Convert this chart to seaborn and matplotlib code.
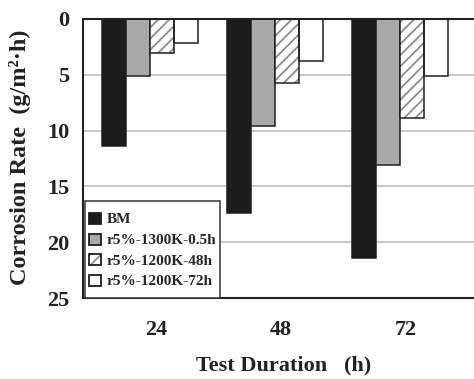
import matplotlib
matplotlib.use("Agg")
import matplotlib.pyplot as plt
import matplotlib.transforms as mtransforms
from matplotlib.patches import Rectangle, Patch
from matplotlib.legend_handler import HandlerTuple, HandlerPatch
import seaborn as sns
import pandas as pd

# ---- data ----
durations = ["24", "48", "72"]
series = ["BM", "r5%-1300K-0.5h", "r5%-1200K-48h", "r5%-1200K-72h"]
bm = [11.4, 17.35, 21.4]
r1300_05 = [5.1, 9.55, 13.1]
r1200_48 = [3.02, 5.77, 8.9]
r1200_72 = [2.18, 3.73, 5.15]
y_ticks = [0, 5, 10, 15, 20, 25]

records = []
for name, vals in zip(series, [bm, r1300_05, r1200_48, r1200_72]):
    for d, v in zip(durations, vals):
        records.append((d, name, v))
df = pd.DataFrame(records, columns=["Duration", "Series", "Rate"])

sns.set_style("white")
plt.rcParams["font.family"] = ["Liberation Serif", "DejaVu Serif"]
plt.rcParams["font.weight"] = "bold"
plt.rcParams["hatch.linewidth"] = 1.3

palette = {series[0]: "#1c1c1c", series[1]: "#a9a9a9",
           series[2]: "#ffffff", series[3]: "#ffffff"}
edge = "#1e1e1e"

W, H = 474, 379
fig = plt.figure(figsize=(W / 100, H / 100), dpi=100)
left, right, top, bottom = 83, 474, 19, 298
ax = fig.add_axes([left / W, 1 - bottom / H, (right - left) / W, (bottom - top) / H])

sns.barplot(data=df, x="Duration", y="Rate", hue="Series", order=durations,
            hue_order=series, palette=palette, width=0.77, saturation=1,
            edgecolor=edge, linewidth=1.1, errorbar=None, legend=False, ax=ax)

# hatched series: gray hatch, dark outline overlay
for p in ax.containers[2].patches:
    p.set_hatch("///")
    p.set_edgecolor("#8c8c8c")
    p.set_linewidth(0)
    ax.add_patch(Rectangle((p.get_x(), p.get_y()), p.get_width(), p.get_height(),
                           fill=False, edgecolor=edge, lw=1.1,
                           zorder=p.get_zorder() + 0.1))

ax.set_ylim(25, 0)
ax.set_xlim(-0.536, 2.592)
ax.set_yticks(y_ticks)
ax.set_yticklabels([str(t) for t in y_ticks])

ax.set_axisbelow(True)
ax.yaxis.grid(True, color="#bdbdbd", lw=1.2)
ax.xaxis.grid(False)

for s in ["top", "left", "bottom"]:
    ax.spines[s].set_visible(True)
    ax.spines[s].set_color("#222222")
    ax.spines[s].set_linewidth(1.5)
ax.spines["right"].set_visible(False)

ax.tick_params(axis="both", length=0, labelsize=16, colors="#222222")
ax.tick_params(axis="y", pad=10)
ax.tick_params(axis="x", pad=16)
for lab in ax.get_xticklabels() + ax.get_yticklabels():
    lab.set_fontweight("bold")
shift = mtransforms.ScaledTranslation(6 / 100, 0, fig.dpi_scale_trans)
for lab in ax.get_xticklabels():
    lab.set_transform(lab.get_transform() + shift)

ax.set_xlabel("Test Duration   (h)", fontsize=16, fontweight="bold", color="#222222")
ax.xaxis.label.set_va("center")
ax.xaxis.set_label_coords((284 - left) / (right - left), (bottom - 365) / (bottom - top))
ax.set_ylabel("Corrosion Rate  (g/m²·h)", fontsize=17.5, fontweight="bold", color="#222222")
ax.yaxis.label.set_va("center")
ax.yaxis.set_label_coords((20 - left) / (right - left), (bottom - 157) / (bottom - top))


# legend: small square swatches centred in taller rows
def square_patch(legend, orig_handle, xdescent, ydescent, width, height, fontsize):
    s = 0.72 * fontsize
    return Rectangle((-xdescent, -ydescent + (height - s) / 2), width, s)


square = HandlerPatch(patch_func=square_patch)

handles = [
    Patch(facecolor=palette[series[0]], edgecolor=edge, lw=1.3),
    Patch(facecolor=palette[series[1]], edgecolor=edge, lw=1.3),
    (Patch(facecolor="#ffffff", edgecolor="#8c8c8c", hatch="///", lw=0),
     Patch(fill=False, edgecolor=edge, lw=1.3)),
    Patch(facecolor=palette[series[3]], edgecolor=edge, lw=1.3),
]
leg = ax.legend(handles, series, loc="lower left", bbox_to_anchor=(0.005, 0.0),
                borderaxespad=0, frameon=True, fancybox=False,
                prop={"family": ["Liberation Serif"], "weight": "bold", "size": 11},
                handlelength=0.8, handleheight=2.3, handletextpad=0.33,
                labelspacing=-0.38, borderpad=0.27,
                handler_map={tuple: HandlerTuple(ndivide=1), Patch: square})
leg.get_frame().set_edgecolor("#333333")
leg.get_frame().set_linewidth(1.1)
leg.get_frame().set_facecolor("white")
leg.get_frame().set_alpha(1)

fig.savefig("out.png", dpi=100, facecolor="white")
